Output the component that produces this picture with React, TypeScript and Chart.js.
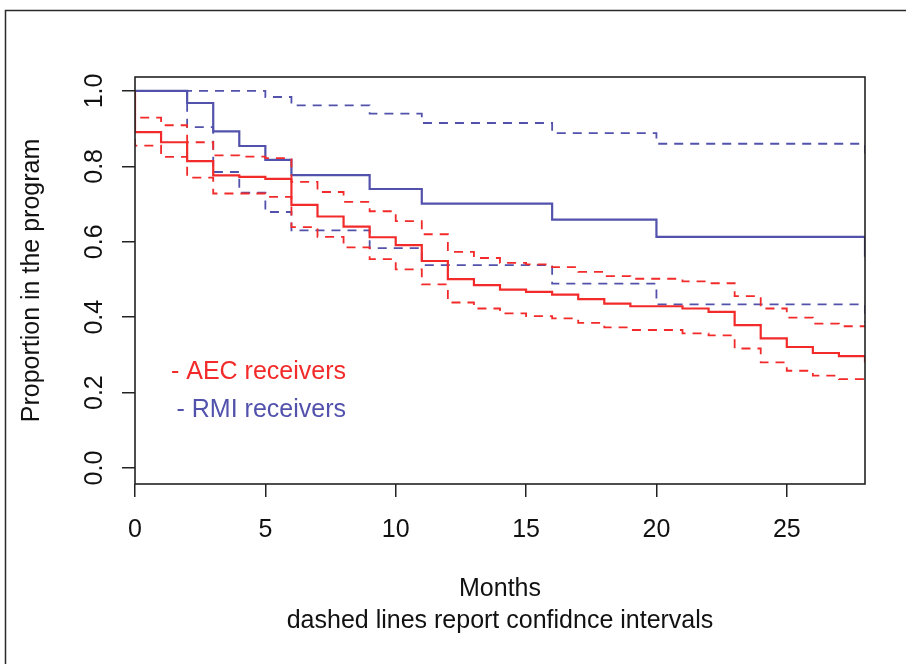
import React, { useEffect, useRef } from 'react';
import { Chart, registerables } from 'chart.js';

Chart.register(...registerables);

// ---- data ----
const xTickValues = [0, 5, 10, 15, 20, 25];
const yTickValues = [0, 0.2, 0.4, 0.6, 0.8, 1.0];
const xTitleLines = ['Months', 'dashed lines report confidnce intervals'];
const yTitleText = 'Proportion in the program';
const legendLabels = ['- AEC receivers', '- RMI receivers'];

// AEC receivers (red) Kaplan-Meier estimate and CI
const aecTimes = [0, 0, 1, 2, 3, 4, 5, 6, 7, 8, 9, 10, 11, 12, 13, 14, 15, 16, 17, 18, 19, 21, 22, 23, 24, 25, 26, 27, 28];
const aecSurv = [1, 0.891, 0.864, 0.814, 0.776, 0.772, 0.767, 0.698, 0.667, 0.640, 0.612, 0.591, 0.549, 0.501, 0.485, 0.473, 0.467, 0.460, 0.448, 0.436, 0.429, 0.423, 0.414, 0.379, 0.344, 0.321, 0.305, 0.297, 0.280];
const aecUpper = [1, 0.929, 0.909, 0.864, 0.829, 0.826, 0.822, 0.759, 0.732, 0.706, 0.681, 0.655, 0.620, 0.573, 0.557, 0.544, 0.540, 0.533, 0.520, 0.509, 0.502, 0.495, 0.490, 0.456, 0.423, 0.399, 0.383, 0.376, 0.376];
const aecLower = [1, 0.855, 0.825, 0.770, 0.728, 0.728, 0.719, 0.639, 0.613, 0.585, 0.554, 0.527, 0.487, 0.439, 0.423, 0.410, 0.403, 0.397, 0.385, 0.373, 0.366, 0.357, 0.352, 0.317, 0.280, 0.258, 0.245, 0.236, 0.236];

// RMI receivers (blue)
const rmiTimes = [0, 2, 3, 4, 5, 6, 9, 11, 16, 20, 28];
const rmiSurv = [1, 0.968, 0.893, 0.854, 0.817, 0.777, 0.740, 0.701, 0.659, 0.613, 0.560];
const rmiLower = [1, 0.904, 0.785, 0.730, 0.679, 0.630, 0.583, 0.538, 0.489, 0.434, 0.385];
const rmiUpperTimes = [0, 5, 6, 9, 11, 16, 20, 28];
const rmiUpper = [1, 0.984, 0.962, 0.940, 0.915, 0.888, 0.860, 0.834];

const RED = '#f22a2a';
const BLUE = '#5252ad';
const FONT = "'Liberation Sans', Arial, Helvetica, sans-serif";

const toPoints = (times: number[], vals: number[]) => times.map((t, i) => ({ x: t, y: vals[i] }));

const framePlugin = {
  id: 'framePlugin',
  afterDraw(chart: any) {
    const { ctx, chartArea } = chart;
    ctx.save();
    // outer figure frame
    ctx.strokeStyle = '#2a2a2a';
    ctx.lineWidth = 1.5;
    ctx.strokeRect(5.5, 10.5, 1000, 1000);
    // plot box
    ctx.strokeStyle = '#222';
    ctx.lineWidth = 1.6;
    ctx.strokeRect(chartArea.left, chartArea.top, chartArea.right - chartArea.left, chartArea.bottom - chartArea.top);
    // legend text
    ctx.font = `25px ${FONT}`;
    ctx.textAlign = 'right';
    ctx.textBaseline = 'middle';
    ctx.fillStyle = RED;
    ctx.fillText(legendLabels[0], 346, 372);
    ctx.fillStyle = BLUE;
    ctx.fillText(legendLabels[1], 346, 410);
    ctx.restore();
  },
};

export default function App() {
  const ref = useRef<HTMLCanvasElement | null>(null);

  useEffect(() => {
    if (!ref.current) return;
    const dashed = [9, 7];
    const chart = new Chart(ref.current, {
      type: 'line',
      data: {
        datasets: [
          { data: toPoints(aecTimes, aecUpper), borderColor: RED, borderWidth: 1.8, borderDash: dashed, stepped: 'before' },
          { data: toPoints(aecTimes, aecLower), borderColor: RED, borderWidth: 1.8, borderDash: dashed, stepped: 'before' },
          { data: toPoints(aecTimes, aecSurv), borderColor: RED, borderWidth: 2.2, stepped: 'before' },
          { data: toPoints(rmiUpperTimes, rmiUpper), borderColor: BLUE, borderWidth: 1.8, borderDash: dashed, stepped: 'before' },
          { data: toPoints(rmiTimes, rmiLower), borderColor: BLUE, borderWidth: 1.8, borderDash: dashed, stepped: 'before' },
          { data: toPoints(rmiTimes, rmiSurv), borderColor: BLUE, borderWidth: 2.2, stepped: 'before' },
        ],
      },
      options: {
        animation: false,
        responsive: false,
        events: [],
        layout: { padding: { left: 0, right: 41, top: 77, bottom: 0 } },
        elements: { point: { radius: 0 }, line: { tension: 0, fill: false } },
        plugins: { legend: { display: false }, tooltip: { enabled: false } },
        scales: {
          x: {
            type: 'linear',
            min: 0,
            max: 28,
            afterBuildTicks: (s: any) => { s.ticks = xTickValues.map((v) => ({ value: v })); },
            afterFit: (s: any) => { s.height = 180; },
            grid: { display: true, drawOnChartArea: false, drawTicks: true, tickLength: 13, color: '#222', lineWidth: 1.5 },
            border: { display: false },
            ticks: { color: '#111', font: { family: FONT, size: 25 }, padding: 18, maxRotation: 0, autoSkip: false, callback: (v: any) => String(v) },
            title: { display: true, text: xTitleLines, color: '#111', font: { family: FONT, size: 25, lineHeight: 1.28 }, padding: { top: 0, bottom: 27 } },
          },
          y: {
            type: 'linear',
            min: -0.0424,
            max: 1.037,
            afterBuildTicks: (s: any) => { s.ticks = yTickValues.map((v) => ({ value: v })); },
            afterFit: (s: any) => { s.width = 135; },
            grid: { display: true, drawOnChartArea: false, drawTicks: true, tickLength: 13, color: '#222', lineWidth: 1.5 },
            border: { display: false },
            ticks: { color: '#111', font: { family: FONT, size: 25 }, padding: 10, minRotation: 90, maxRotation: 90, crossAlign: 'center', autoSkip: false, callback: (v: any) => Number(v).toFixed(1) },
            title: { display: true, text: yTitleText, color: '#111', font: { family: FONT, size: 25, lineHeight: 1.2 }, padding: { top: 17, bottom: 0 } },
          },
        },
      },
      plugins: [framePlugin],
    } as any);
    return () => chart.destroy();
  }, []);

  return (
    <div style={{ position: 'absolute', left: 0, top: 0, width: 906, height: 664, background: '#fff' }}>
      <canvas ref={ref} width={906} height={664} style={{ display: 'block' }} />
    </div>
  );
}
